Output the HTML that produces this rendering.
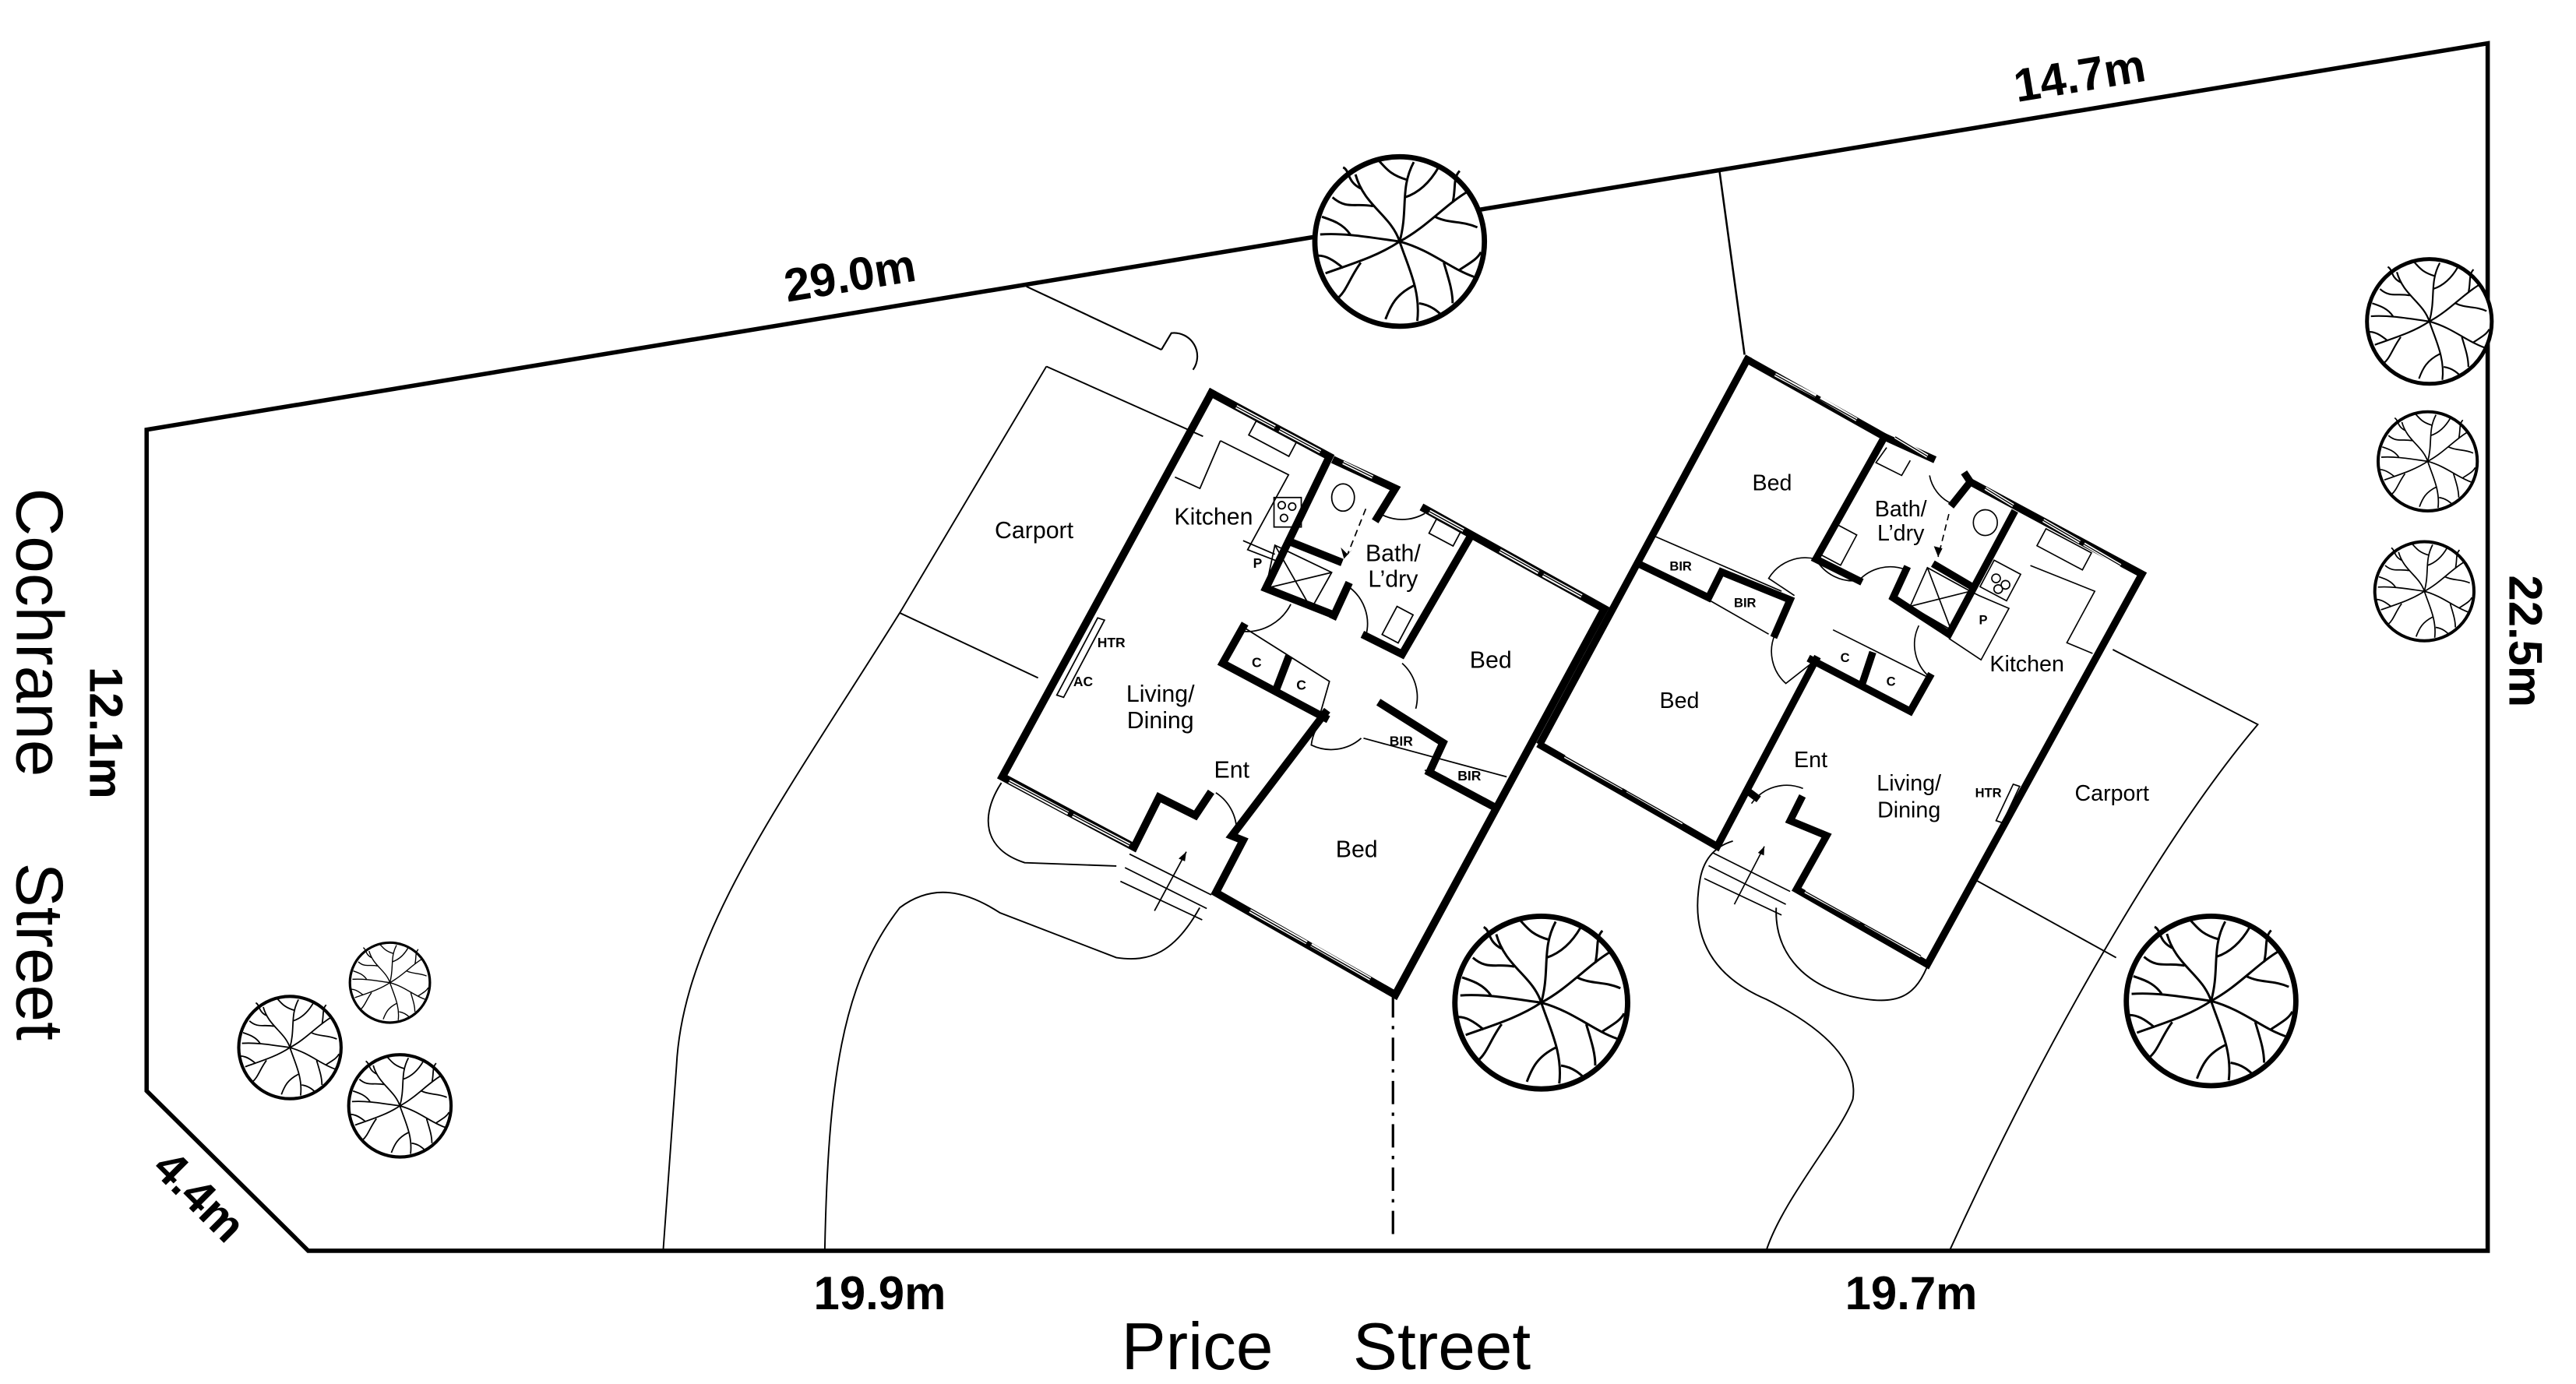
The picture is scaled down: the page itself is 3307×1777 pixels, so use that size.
<!DOCTYPE html>
<html><head><meta charset="utf-8"><style>
html,body{margin:0;padding:0;background:#fff;}
svg{display:block;}
text{font-family:"Liberation Sans",sans-serif;fill:#000;}
.w{fill:none;stroke:#000;stroke-width:17;stroke-linejoin:miter;stroke-linecap:square}
.win{fill:none;stroke:#fff;stroke-width:8}
.wl{fill:none;stroke:#000;stroke-width:2.5}
.t{fill:none;stroke:#000;stroke-width:3}
.rm{font-size:52px;text-anchor:middle}
.sm{font-size:30px;font-weight:bold;text-anchor:middle}
</style></head><body>
<svg width="3307" height="1777" viewBox="0 0 1546 831" preserveAspectRatio="none" xmlns="http://www.w3.org/2000/svg">
<defs>
<symbol id="tree" viewBox="-50 -50 100 100">
<circle cx="0" cy="0" r="48" fill="#fff" stroke="#000" stroke-width="3"/>
<g fill="none" stroke="#000" stroke-width="1.3">
<path d="M0 0 C-5 -15 -20 -20 -25 -38 M-15 -20 C-25 -22 -30 -18 -38 -25 M-22 -30 C-30 -34 -28 -40 -32 -42"/>
<path d="M0 0 C5 -18 0 -30 8 -45 M3 -25 C12 -28 18 -35 22 -42 M4 -35 C-6 -38 -8 -42 -12 -46"/>
<path d="M0 0 C15 -8 25 -20 38 -28 M20 -14 C28 -10 35 -12 44 -8 M30 -22 C32 -30 30 -36 34 -40"/>
<path d="M0 0 C18 5 28 15 42 20 M25 12 C28 22 30 28 30 35 M34 16 C40 12 44 10 46 6"/>
<path d="M0 0 C5 15 12 28 10 45 M8 25 C-2 30 -5 36 -8 44 M11 35 C18 36 22 40 24 42"/>
<path d="M0 0 C-12 8 -25 12 -42 18 M-22 12 C-28 20 -30 28 -35 32 M-32 15 C-38 10 -42 8 -46 8"/>
<path d="M0 0 C-15 -2 -30 -5 -45 -4 M-28 -4 C-32 -10 -38 -12 -44 -14"/>
</g>
</symbol>
</defs>

<polygon points="88,258 1493,26 1493,751 185,751 88,655" fill="none" stroke="#000" stroke-width="2.6"/>
<line x1="616" y1="172" x2="697" y2="210" stroke="#000" stroke-width="1"/>
<path d="M697 210 L703 200 A14 14 0 0 1 716 222" fill="none" stroke="#000" stroke-width="1"/>
<line x1="1032" y1="103" x2="1047" y2="213" stroke="#000" stroke-width="1.2"/>
<line x1="836" y1="597" x2="836" y2="742" stroke="#000" stroke-width="1.5" stroke-dasharray="14,5,2,5"/>

<g fill="none" stroke="#000" stroke-width="0.9">
<path d="M628 220 L540 368 L623 407"/>
<path d="M628 220 L722 262"/>
<path d="M540 368 C470 480 410 560 406 640 L398 751"/>
<path d="M495 751 C497 650 505 590 540 545 C560 530 580 535 600 548 L670 575 C690 578 705 572 720 545"/>
<path d="M601 470 C588 490 590 510 615 518 L670 520"/>
<path d="M1060 751 C1070 720 1105 680 1112 660 C1115 640 1100 620 1060 600 C1025 585 1015 560 1020 530 C1022 515 1030 508 1040 505"/>
<path d="M1066 545 C1065 570 1080 590 1110 598 C1140 605 1150 598 1158 577"/>
<path d="M1170 751 C1230 620 1300 500 1355 435 L1268 390"/>
<path d="M1185 528 L1270 575"/>
</g>

<g transform="translate(568.8 191) scale(0.2727)">
<path class="w" d="M580 165 L120 1010 L410 1165 L465 1055 L545 1095 L575 1050"/>
<path class="w" d="M580 165 L840 305 L700 595 L840 650"/>
<path class="w" d="M855 315 L985 375 L945 440"/>
<path class="w" d="M760 495 L860 535"/>
<path class="w" d="M1145 490 L1000 740 L920 700"/>
<path class="w" d="M880 590 L850 655"/>
<path class="w" d="M1050 420 L1445 640 L985 1490 L590 1265 L650 1150 L625 1140 L830 870"/>
<path class="w" d="M650 680 L605 760 L830 880"/>
<path class="w" d="M748 752 L725 812"/>
<path class="w" d="M955 850 L1090 935 L1060 1000 L1200 1075"/>
<path class="win" d="M635 195 L720 240 M730 246 L820 294 M870 318 L935 350 M1060 426 L1135 467 M1215 512 L1300 560 M1310 566 L1395 612 M135 1020 L265 1090 M275 1095 L400 1160 M665 1305 L790 1375 M800 1380 L930 1455"/>
<path class="wl" d="M635 195 L820 294 M870 318 L935 350 M1060 426 L1135 467 M1215 512 L1395 612 M135 1020 L400 1160 M665 1305 L930 1455"/>
<path class="t" d="M600 270 L555 375 L500 350 M600 270 L750 345 L660 510 L725 535 M650 490 L720 520"/>
<rect class="t" x="665" y="248" width="100" height="35" transform="rotate(28 715 265)"/>
<rect class="t" x="718" y="395" width="60" height="65"/>
<circle class="t" cx="735" cy="412" r="8"/><circle class="t" cx="758" cy="415" r="8"/><circle class="t" cx="740" cy="440" r="8"/>
<ellipse class="t" cx="870" cy="395" rx="25" ry="30"/>
<path class="t" d="M720 500 L845 560 L800 640 L700 595 Z M720 500 L800 640 M845 560 L700 595"/>
<path class="t" d="M920 420 L880 520" stroke-dasharray="15,10"/>
<path d="M880 520 L865 505 L872 530 L890 510 Z" fill="#000"/>
<rect class="t" x="970" y="640" width="40" height="70" transform="rotate(28 990 675)"/>
<rect class="t" x="1065" y="455" width="60" height="35" transform="rotate(28 1095 470)"/>
<path class="t" d="M650 680 L840 800 L820 870"/>
<path class="t" d="M915 925 L1230 1010 M1050 995 L1195 1080"/>
<path class="t" d="M330 660 L240 830 L255 835 L345 665 Z"/>
<path class="t" d="M650 690 A110 110 0 0 0 755 630"/>
<path class="t" d="M880 590 A100 100 0 0 1 920 700"/>
<path class="t" d="M1000 760 A100 100 0 0 1 1030 860"/>
<path class="t" d="M950 430 A100 100 0 0 0 1050 430"/>
<path class="t" d="M830 880 A100 100 0 0 0 800 940 A100 100 0 0 0 910 925"/>
<path class="t" d="M590 1045 A100 100 0 0 1 635 1140"/>
<path class="t" d="M400 1180 L580 1270 M390 1210 L570 1300 M380 1240 L560 1325"/>
<path class="t" d="M455 1305 L525 1175"/><path d="M525 1175 L508 1190 L522 1196 Z" fill="#000"/>
<text class="rm" x="190" y="485">Carport</text>
<text class="rm" x="585" y="455">Kitchen</text>
<text class="rm" x="980" y="535">Bath/</text>
<text class="rm" x="980" y="592">L’dry</text>
<text class="rm" x="1195" y="770">Bed</text>
<text class="rm" x="468" y="845">Living/</text>
<text class="rm" x="468" y="903">Dining</text>
<text class="rm" x="625" y="1012">Ent</text>
<text class="rm" x="900" y="1187">Bed</text>
<text class="sm" x="360" y="725">HTR</text>
<text class="sm" x="298" y="810">AC</text>
<text class="sm" x="682" y="550">P</text>
<text class="sm" x="680" y="768">C</text>
<text class="sm" x="778" y="818">C</text>
<text class="sm" x="998" y="942">BIR</text>
<text class="sm" x="1148" y="1018">BIR</text>
</g>

<g transform="translate(925 200.5) scale(0.2575)">
<path class="w" d="M480 60 L0 950"/>
<path class="w" d="M480 60 L800 240 L640 525 L740 575"/>
<path class="w" d="M800 240 L910 290"/>
<path class="w" d="M990 330 L1000 345 L960 395"/>
<path class="w" d="M1000 345 L1400 560 L900 1470 L595 1295 L665 1170 L580 1135 L605 1085"/>
<path class="w" d="M1100 420 L950 700 L820 615 L850 550"/>
<path class="w" d="M920 540 L1005 590"/>
<path class="w" d="M640 760 L410 1195 L0 960"/>
<path class="w" d="M480 1065 L500 1080"/>
<path class="w" d="M235 540 L390 615 L420 555 L580 620 L545 700"/>
<path class="w" d="M630 760 L860 880 L905 800"/>
<path class="w" d="M770 750 L750 810"/>
<path class="win" d="M545 95 L640 145 M650 150 L735 200 M825 240 L900 285 M1035 360 L1100 400 M1170 435 L1255 485 M1265 490 L1350 540 M55 985 L190 1060 M200 1065 L330 1140 M615 1300 L745 1370 M755 1376 L885 1450"/>
<path class="wl" d="M545 95 L735 200 M825 240 L900 285 M1035 360 L1100 400 M1170 435 L1350 540 M55 985 L330 1140 M615 1300 L885 1450"/>
<path class="t" d="M805 265 L780 300 L840 330 L860 295"/>
<rect class="t" x="660" y="450" width="60" height="80" transform="rotate(28 690 490)"/>
<ellipse class="t" cx="1035" cy="440" rx="28" ry="30"/>
<path class="t" d="M950 420 L925 520" stroke-dasharray="15,10"/>
<path d="M925 520 L915 495 L935 500 Z" fill="#000"/>
<path class="t" d="M900 545 L1000 600 L955 690 L860 635 Z M900 545 L955 690 M1000 600 L860 635"/>
<rect class="t" x="1160" y="480" width="120" height="45" transform="rotate(28 1220 500)"/>
<rect class="t" x="1035" y="540" width="70" height="70" transform="rotate(28 1070 575)"/>
<circle class="t" cx="1060" cy="570" r="10"/><circle class="t" cx="1082" cy="585" r="10"/><circle class="t" cx="1065" cy="595" r="10"/>
<path class="t" d="M1140 540 L1290 600 L1225 720 L1285 745 M1000 600 L1020 610 L1090 640 L1025 760 L950 710"/>
<path class="t" d="M260 470 L560 600 M390 620 L530 700"/>
<path class="t" d="M680 690 L900 800"/>
<path class="t" d="M1100 1050 L1060 1135 L1075 1140 L1115 1055 Z"/>
<path class="t" d="M640 525 A100 100 0 0 0 530 570 L590 610"/>
<path class="t" d="M640 525 A100 100 0 0 0 740 575 A100 100 0 0 1 850 550"/>
<path class="t" d="M905 330 A90 90 0 0 0 955 395"/>
<path class="t" d="M545 700 A100 100 0 0 0 570 815 L640 760"/>
<path class="t" d="M880 680 A100 100 0 0 0 905 800"/>
<path class="t" d="M490 1095 A100 100 0 0 1 610 1060"/>
<path class="t" d="M400 1210 L580 1300 M390 1240 L570 1330 M380 1270 L560 1355"/>
<path class="t" d="M450 1330 L520 1195"/><path d="M520 1195 L505 1210 L519 1216 Z" fill="#000"/>
<text class="rm" x="538" y="365">Bed</text>
<text class="rm" x="838" y="425">Bath/</text>
<text class="rm" x="838" y="482">L’dry</text>
<text class="rm" x="322" y="872">Bed</text>
<text class="rm" x="1132" y="787">Kitchen</text>
<text class="rm" x="628" y="1010">Ent</text>
<text class="rm" x="857" y="1065">Living/</text>
<text class="rm" x="857" y="1127">Dining</text>
<text class="rm" x="1330" y="1088">Carport</text>
<text class="sm" x="325" y="552">BIR</text>
<text class="sm" x="475" y="637">BIR</text>
<text class="sm" x="708" y="765">C</text>
<text class="sm" x="815" y="820">C</text>
<text class="sm" x="1030" y="677">P</text>
<text class="sm" x="1042" y="1080">HTR</text>
</g>

<use href="#tree" x="787" y="92" width="106" height="106"/>
<use href="#tree" x="871" y="548" width="108" height="108"/>
<use href="#tree" x="1274" y="548" width="106" height="106"/>
<use href="#tree" x="1419" y="154" width="78" height="78"/>
<use href="#tree" x="1424" y="246" width="66" height="62"/>
<use href="#tree" x="1423" y="324" width="64" height="62"/>
<use href="#tree" x="142" y="597" width="64" height="64"/>
<use href="#tree" x="207" y="565" width="54" height="50"/>
<use href="#tree" x="207" y="632" width="66" height="64"/>

<g font-weight="bold" font-size="28" text-anchor="middle">
<text x="510" y="175" transform="rotate(-9.4 510 165)">29.0m</text>
<text x="1248" y="55" transform="rotate(-9.4 1248 45)">14.7m</text>
<text x="528" y="786">19.9m</text>
<text x="1147" y="786">19.7m</text>
<text transform="translate(54 440) rotate(90)">12.1m</text>
<text transform="translate(1506 385) rotate(90)">22.5m</text>
<text transform="translate(113 725) rotate(45)">4.4m</text>
</g>
<g font-size="40">
<text transform="translate(10 293) rotate(90)">Cochrane</text>
<text transform="translate(10 518) rotate(90)">Street</text>
<text x="673" y="822">Price</text>
<text x="812" y="822">Street</text>
</g>
</svg>
</body></html>
